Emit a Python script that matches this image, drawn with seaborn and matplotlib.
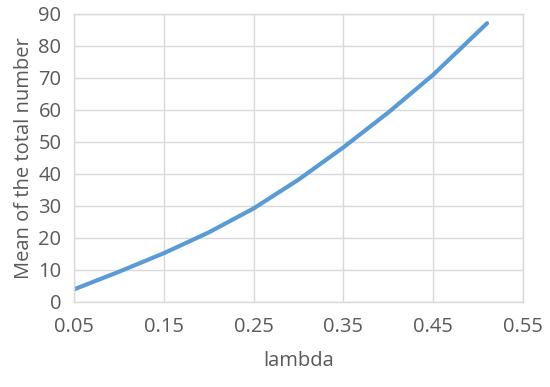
import matplotlib
matplotlib.use("Agg")
import matplotlib.pyplot as plt
import seaborn as sns
import pandas as pd

# data
lam = [0.05, 0.10, 0.15, 0.20, 0.25, 0.30, 0.35, 0.40, 0.45, 0.51]
mean_total = [3.9, 9.4, 15.2, 21.7, 29.2, 38.2, 48.3, 59.2, 71.0, 87.1]

x_ticks = [0.05, 0.15, 0.25, 0.35, 0.45, 0.55]
y_ticks = [0, 10, 20, 30, 40, 50, 60, 70, 80, 90]

df = pd.DataFrame({"lambda": lam, "mean": mean_total})

sns.set_style("white")
plt.rcParams['font.family'] = ['Open Sans', 'DejaVu Sans']

text_col = "#595959"
grid_col = "#D9D9D9"

fig, ax = plt.subplots(figsize=(5.5, 3.87), dpi=100)
fig.subplots_adjust(left=0.1345, right=0.951, bottom=0.22, top=0.964)

sns.lineplot(data=df, x="lambda", y="mean", ax=ax, color="#5B9BD5",
             linewidth=3.0, solid_capstyle="round", solid_joinstyle="round")

ax.set_xlim(0.05, 0.55)
ax.set_ylim(0, 90)
ax.set_xticks(x_ticks)
ax.set_xticklabels([f"{t:.2f}" for t in x_ticks])
ax.set_yticks(y_ticks)

ax.grid(True, color=grid_col, linewidth=1.0)
ax.set_axisbelow(True)
for s in ax.spines.values():
    s.set_color(grid_col)
    s.set_linewidth(1.0)

ax.tick_params(axis="both", length=0, labelsize=14.5, colors=text_col)
ax.tick_params(axis="y", pad=9)
ax.tick_params(axis="x", pad=11)
ax.set_xlabel("lambda", fontsize=14.5, color=text_col, labelpad=10)
ax.set_ylabel("Mean of the total number", fontsize=14.5, color=text_col, labelpad=3)

plt.savefig("out.png", dpi=100)
